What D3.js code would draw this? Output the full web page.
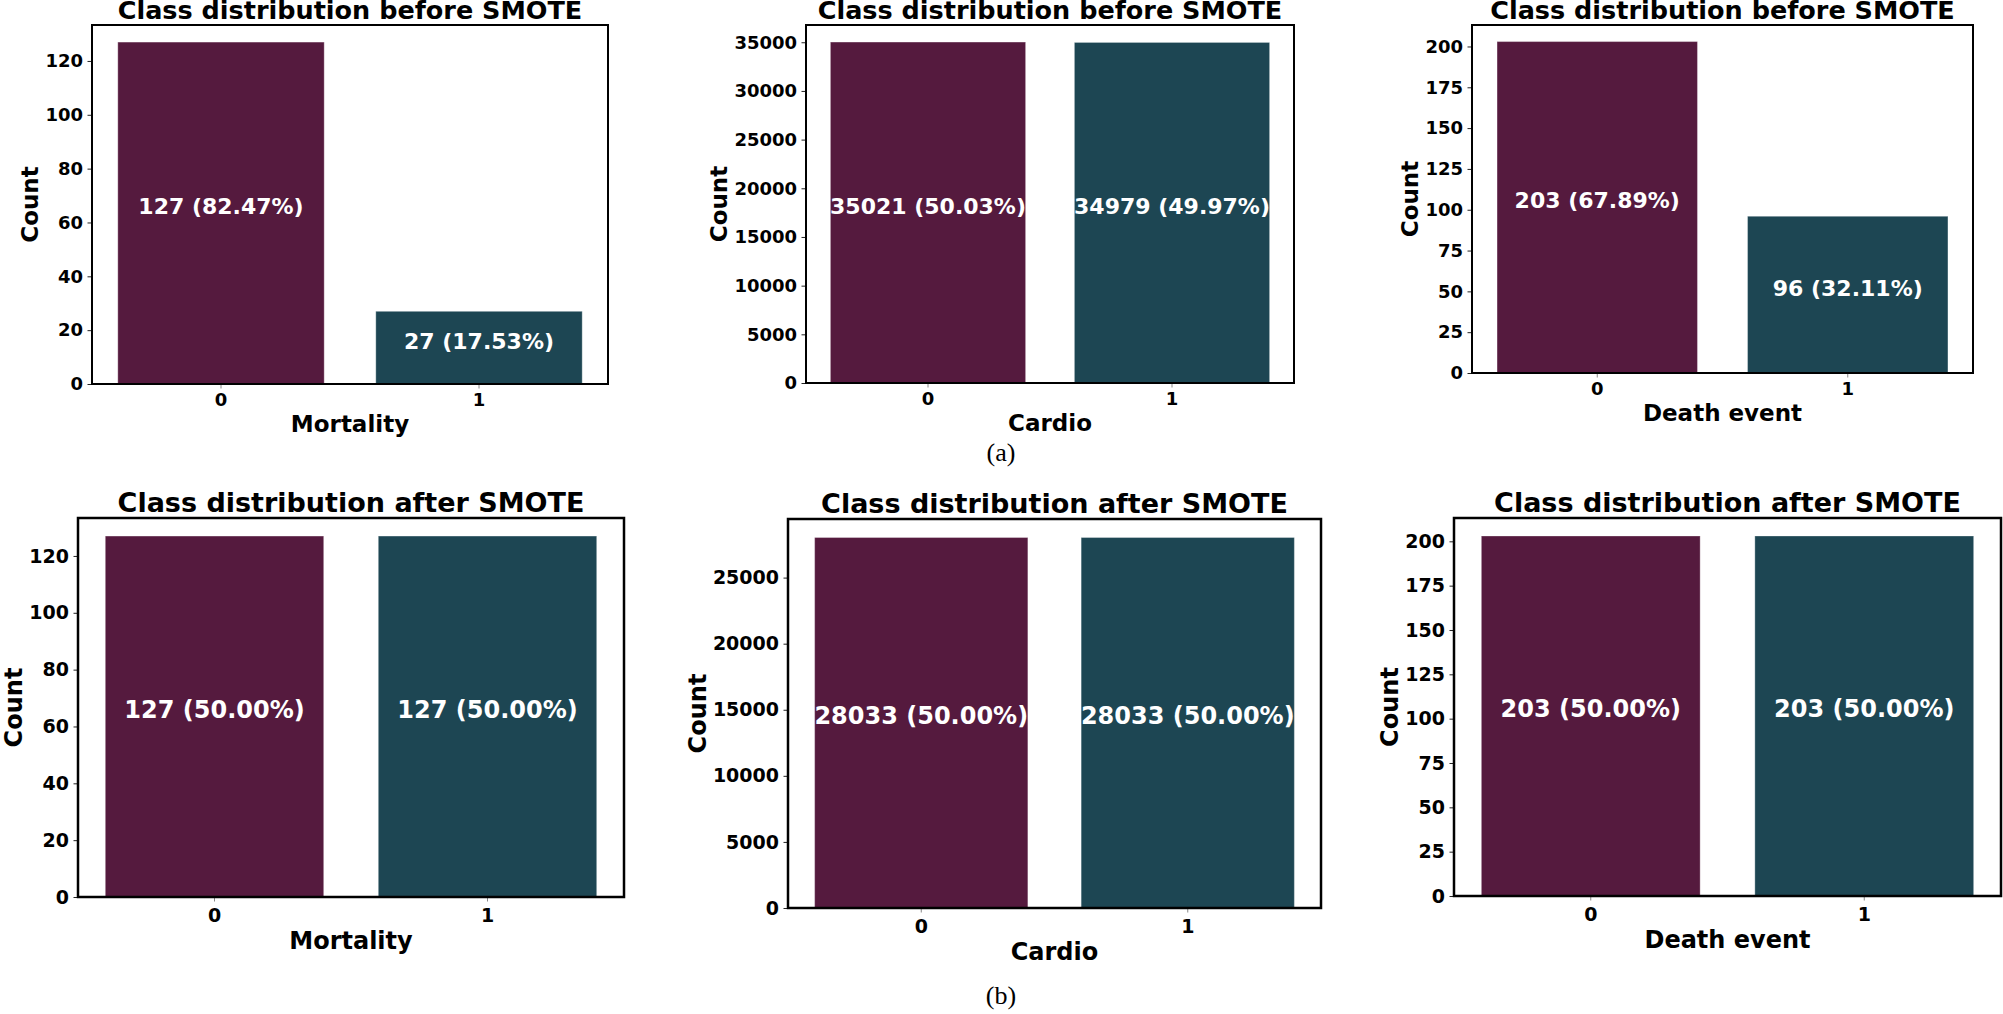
<!DOCTYPE html>
<html>
<head>
<meta charset="utf-8">
<script src="https://cdn.jsdelivr.net/npm/d3@7"></script>
<style>
body { margin: 0; background: #fff; }
svg { display: block; }
</style>
</head>
<body>
<script>
// data
var categories = ['0', '1']
var datasets = ['Mortality', 'Cardio', 'Death event']
var counts_before = [[127, 27], [35021, 34979], [203, 96]]
var counts_after = [[127, 127], [28033, 28033], [203, 203]]
var ticks_mortality = [0, 20, 40, 60, 80, 100, 120]
var ticks_cardio_before = [0, 5000, 10000, 15000, 20000, 25000, 30000, 35000]
var ticks_cardio_after = [0, 5000, 10000, 15000, 20000, 25000]
var ticks_death = [0, 25, 50, 75, 100, 125, 150, 175, 200]
var title_before = 'Class distribution before SMOTE'
var title_after = 'Class distribution after SMOTE'
var colors = ['#551a3e', '#1d4653']

var font = "'DejaVu Sans', sans-serif"

var svg = d3.select('body').append('svg').attr('width', 2003).attr('height', 1014)

// row styles (top figure is drawn slightly smaller than the bottom one)
var row_a = { title: 25.5, tick: 18, label: 23, bar: 22, spine: 2, pad: 5, xlab: 48 }
var row_b = { title: 27, tick: 19, label: 24, bar: 24, spine: 2.5, pad: 7, xlab: 52 }

// frame boxes: left, top, right, bottom
var panels = [
  { counts: counts_before[0], ticks: ticks_mortality, xlabel: datasets[0], title: title_before, box: [92, 25, 608, 384], st: row_a },
  { counts: counts_before[1], ticks: ticks_cardio_before, xlabel: datasets[1], title: title_before, box: [806, 25, 1294, 383], st: row_a },
  { counts: counts_before[2], ticks: ticks_death, xlabel: datasets[2], title: title_before, box: [1472, 25, 1973, 373], st: row_a },
  { counts: counts_after[0], ticks: ticks_mortality, xlabel: datasets[0], title: title_after, box: [78, 518, 624, 897], st: row_b },
  { counts: counts_after[1], ticks: ticks_cardio_after, xlabel: datasets[1], title: title_after, box: [788, 519, 1321, 908], st: row_b },
  { counts: counts_after[2], ticks: ticks_death, xlabel: datasets[2], title: title_after, box: [1454, 518, 2001, 896], st: row_b }
]

panels.forEach(draw_panel)

// sub-figure captions
svg.append('text').attr('x', 1001).attr('y', 461).attr('text-anchor', 'middle')
  .style('font-family', "'Liberation Serif', serif").style('font-size', '26px').text('(a)')
svg.append('text').attr('x', 1001).attr('y', 1004).attr('text-anchor', 'middle')
  .style('font-family', "'Liberation Serif', serif").style('font-size', '26px').text('(b)')

function draw_panel (p) {
  var L = p.box[0], T = p.box[1], R = p.box[2], B = p.box[3]
  var st = p.st
  var g = svg.append('g')
  var total = d3.sum(p.counts)

  var x = d3.scaleBand().domain(categories).range([L, R]).paddingInner(0.2).paddingOuter(0.1)
  var y = d3.scaleLinear().domain([0, d3.max(p.counts) * 1.05]).range([B, T])

  // bars
  g.selectAll('rect.bar').data(p.counts).enter().append('rect')
    .attr('class', 'bar')
    .attr('x', function (d, i) { return x(categories[i]) })
    .attr('width', x.bandwidth())
    .attr('y', function (d) { return y(d) })
    .attr('height', function (d) { return y(0) - y(d) })
    .attr('fill', function (d, i) { return colors[i] })
    .attr('stroke', '#fff').attr('stroke-opacity', 0.3).attr('stroke-width', 1)

  // labels inside bars
  g.selectAll('text.val').data(p.counts).enter().append('text')
    .attr('class', 'val')
    .attr('x', function (d, i) { return x(categories[i]) + x.bandwidth() / 2 })
    .attr('y', function (d) { return (y(d) + y(0)) / 2 + 1 })
    .attr('text-anchor', 'middle')
    .style('font-family', font).style('font-weight', 'bold').style('font-size', st.bar + 'px')
    .style('fill', '#fff')
    .text(function (d) { return d + ' (' + (d / total * 100).toFixed(2) + '%)' })

  // y axis
  var ya = g.append('g').attr('transform', 'translate(' + L + ',0)')
    .call(d3.axisLeft(y).tickValues(p.ticks).tickSize(4.5).tickPadding(4.5).tickFormat(d3.format('d')))
  ya.select('.domain').remove()
  ya.selectAll('line').attr('stroke', '#222').attr('stroke-width', 1)
  ya.selectAll('text').style('font-family', font).style('font-weight', 'bold')
    .style('font-size', st.tick + 'px').style('fill', '#000')
  var bb = ya.node().getBBox()

  // x axis
  var xa = g.append('g').attr('transform', 'translate(0,' + B + ')')
    .call(d3.axisBottom(x).tickSize(4.5).tickPadding(st.pad))
  xa.select('.domain').remove()
  xa.selectAll('line').attr('stroke', '#888').attr('stroke-width', 1)
  xa.selectAll('text').style('font-family', font).style('font-weight', 'bold')
    .style('font-size', st.tick + 'px').style('fill', '#000')

  // frame
  g.append('rect').attr('x', L).attr('y', T).attr('width', R - L).attr('height', B - T)
    .attr('fill', 'none').attr('stroke', '#000').attr('stroke-width', st.spine)

  // title + axis labels
  g.append('text').attr('x', (L + R) / 2).attr('y', T - 6).attr('text-anchor', 'middle')
    .style('font-family', font).style('font-weight', 'bold').style('font-size', st.title + 'px')
    .text(p.title)
  g.append('text').attr('x', (L + R) / 2).attr('y', B + st.xlab).attr('text-anchor', 'middle')
    .style('font-family', font).style('font-weight', 'bold').style('font-size', st.label + 'px')
    .text(p.xlabel)
  var lx = L + bb.x - 7
  g.append('text').attr('transform', 'translate(' + lx + ',' + ((T + B) / 2) + ') rotate(-90)')
    .attr('text-anchor', 'middle')
    .style('font-family', font).style('font-weight', 'bold').style('font-size', st.label + 'px')
    .text('Count')
}
</script>
</body>
</html>
